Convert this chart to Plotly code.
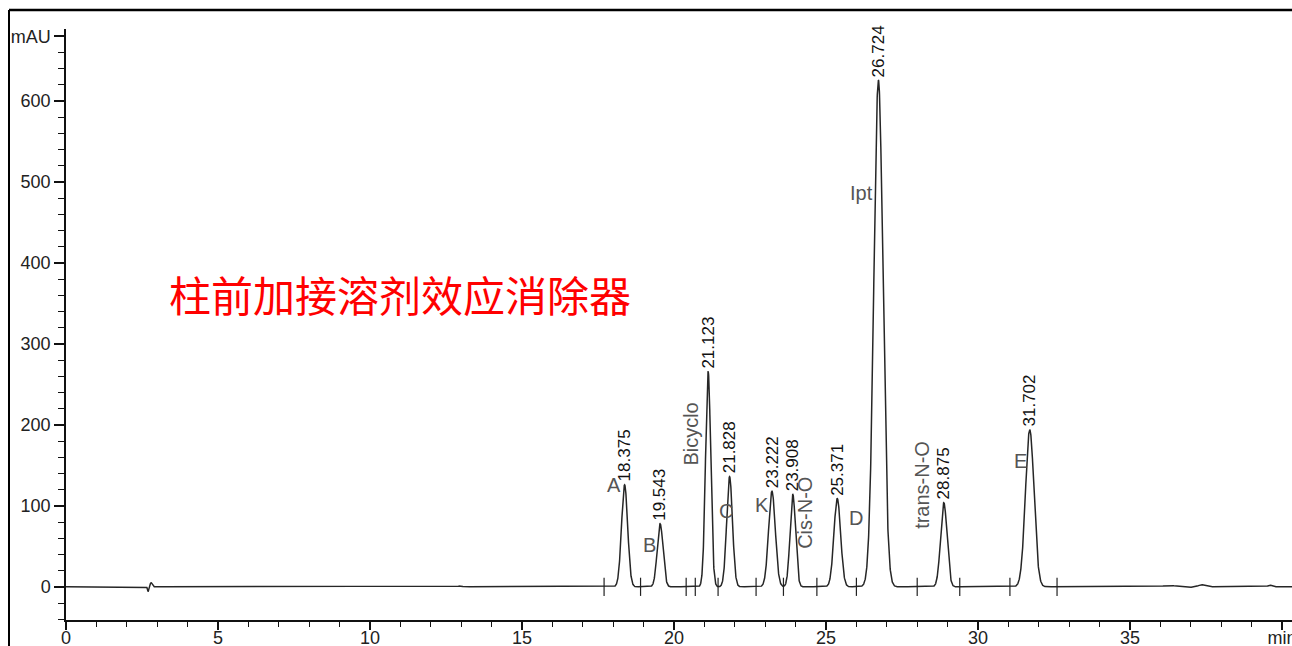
import numpy as np
import plotly.graph_objects as go

# ---- data ----
peak_times = [18.375, 19.543, 21.123, 21.828, 23.222, 23.908, 25.371, 26.724, 28.875, 31.702]
peak_heights = [126, 78, 266, 136, 118, 114, 109, 626, 104, 194]
peak_sigmas = [0.10, 0.095, 0.085, 0.095, 0.11, 0.09, 0.11, 0.15, 0.105, 0.14]
peak_labels = ["18.375", "19.543", "21.123", "21.828", "23.222", "23.908", "25.371", "26.724", "28.875", "31.702"]

# minor baseline disturbances
minor_times = [2.70, 2.80, 12.95, 36.3, 36.85, 37.35, 39.6]
minor_heights = [-6, 5, 1.0, 1.5, -1.0, 2.5, 2.0]
minor_sigmas = [0.02, 0.035, 0.08, 0.22, 0.15, 0.10, 0.06]

# integration baseline marks (min)
mark_times = [17.7, 18.9, 20.4, 20.7, 21.45, 22.7, 23.6, 24.7, 26.0, 28.0, 29.4, 31.05, 32.6]

# compound names: (text, time, mAU, rotated)
names = [("A", 18.03, 126, False), ("B", 19.2, 52, False), ("Bicyclo", 20.56, 188, True),
         ("C", 21.71, 94, False), ("K", 22.9, 101, False), ("Cis-N-O", 24.3, 91, True),
         ("D", 25.99, 85, False), ("Ipt", 26.18, 487, False), ("trans-N-O", 28.16, 126, True),
         ("E", 31.41, 155, False)]

x_ticks = [0, 5, 10, 15, 20, 25, 30, 35, 40]
x_ticktext = ["0", "5", "10", "15", "20", "25", "30", "35", "min"]
y_ticks = [0, 100, 200, 300, 400, 500, 600, 680]
y_ticktext = ["0", "100", "200", "300", "400", "500", "600", "mAU"]

title_cn = "柱前加接溶剂效应消除器"

# ---- build trace from peak table ----
t = np.arange(0, 40.4, 0.004)
signal = np.zeros_like(t)
for tr, h, s in zip(peak_times + minor_times, peak_heights + minor_heights, peak_sigmas + minor_sigmas):
    signal += h * np.exp(-0.5 * ((t - tr) / s) ** 2)

fig = go.Figure()
fig.add_trace(go.Scatter(x=t, y=signal, mode="lines",
                         line=dict(color="#262626", width=1.5), hoverinfo="skip", showlegend=False))
fig.add_trace(go.Scatter(x=mark_times, y=[0] * len(mark_times), mode="markers",
                         marker=dict(symbol="line-ns", size=13, line=dict(color="#222", width=1.2)),
                         hoverinfo="skip", showlegend=False))

ann = []
for tr, h, lab in zip(peak_times, peak_heights, peak_labels):
    ann.append(dict(x=tr, y=h, text=lab, textangle=-90, showarrow=False,
                    xanchor="center", yanchor="bottom", yshift=1,
                    font=dict(family="Liberation Sans, Arial", size=17, color="#111")))
for txt, xt, yv, rot in names:
    ann.append(dict(x=xt, y=yv, text=txt, textangle=-90 if rot else 0, showarrow=False,
                    xanchor="center", yanchor="middle",
                    font=dict(family="Liberation Sans, Arial", size=20, color="#555")))
ann.append(dict(x=11.0, y=362, text=title_cn, showarrow=False, xanchor="center", yanchor="middle",
                font=dict(family="Noto Sans CJK SC", size=42, color="#ff0000")))

W, H = 1292, 646
l, r, tm, b = 66, 0, 29, 26
pw = W - l - r
ph = H - tm - b
xmax = pw / 30.4
fig.update_layout(
    width=W, height=H, margin=dict(l=l, r=r, t=tm, b=b, autoexpand=False),
    paper_bgcolor="white", plot_bgcolor="white",
    annotations=ann,
    xaxis=dict(range=[0, xmax], automargin=False, showgrid=False, zeroline=False, showline=True,
               linecolor="#111", linewidth=1.5,
               tickvals=x_ticks, ticktext=x_ticktext, ticks="outside", ticklen=8, tickwidth=1.5, tickcolor="#111",
               ticklabelstandoff=-7, ticklabeloverflow="allow",
               tickfont=dict(family="Liberation Sans, Arial", size=18, color="#222"),
               minor=dict(dtick=1, ticks="outside", ticklen=5, tickwidth=1.2, tickcolor="#111")),
    yaxis=dict(range=[-41, 689], automargin=False, showgrid=False, zeroline=False, showline=True,
               linecolor="#111", linewidth=1.5,
               tickvals=y_ticks, ticktext=y_ticktext, ticks="outside", ticklen=10, tickwidth=1.5, tickcolor="#111",
               tickfont=dict(family="Liberation Sans, Arial", size=18, color="#222"),
               minor=dict(tickvals=list(range(-40, 690, 20)), ticks="outside", ticklen=6, tickwidth=1.2, tickcolor="#111")),
    shapes=[
        dict(type="line", xref="paper", yref="paper", x0=(9 - l) / pw, x1=1.01, y0=(H - b - 10) / ph, y1=(H - b - 10) / ph,
             line=dict(color="#000", width=2.5)),
        dict(type="line", xref="paper", yref="paper", x0=(9 - l) / pw, x1=(9 - l) / pw, y0=(H - b - 10) / ph, y1=-0.1,
             line=dict(color="#000", width=2)),
    ],
)
fig.write_html("out.html", config={"displayModeBar": False},
               post_script="document.body.style.margin='0';document.body.style.overflow='hidden';")
